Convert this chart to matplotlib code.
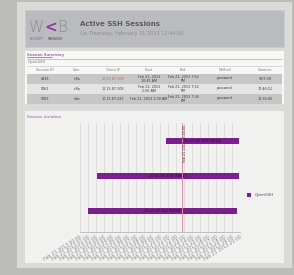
# Active SSH sessions report: summary table plus session duration gantt
import matplotlib.pyplot as plt
from matplotlib.patches import Rectangle

# table data
columns = ['Session ID', 'User', 'Client IP', 'Start', 'End', 'Method', 'Duration']
session_ids = ['4916', '5061', '5083']
users = ['rtflo', 'rtflo', 'mbc']
client_ips = ['10.15.87.109', '10.15.87.208', '10.15.87.222']
start_text = ['Feb 21, 2013\n10:45 AM', 'Feb 21, 2013\n2:06 AM', 'Feb 21, 2013 1:00 AM']
end_text = ['Feb 21, 2013 7:52\nPM', 'Feb 21, 2013 7:52\nPM', 'Feb 21, 2013 7:36\nPM']
methods = ['password', 'password', 'password']
durations = ['9:07:30', '17:46:12', '18:36:00']

# gantt data (hours since Feb 21 2013 00:00)
bar_labels = ['10.15.87.109 (4916)', '10.15.87.208 (5061)', '10.15.87.222 (5083)']
starts = [10.75, 2.1, 1.0]
ends = [19.87, 19.87, 19.6]
now_hour = 12.73
now_label = 'Feb 21 2013 12:44:00'
tick_hours = list(range(0, 21))
tick_labels = ['Feb 21 2013 %02d:00' % h for h in tick_hours]
series_name = 'OpenSSH'

PURPLE = '#7b1f8c'
GREY_TXT = '#8a8a8a'

fig = plt.figure(figsize=(2.94, 2.75), dpi=100)
fig.patch.set_facecolor('#bcbcb8')

bg = fig.add_axes([0, 0, 1, 1])
bg.set_xlim(0, 294)
bg.set_ylim(275, 0)
bg.set_axis_off()

# page and panels
bg.add_patch(Rectangle((17, 2), 275, 266, facecolor='#d9dcd6', edgecolor='none'))
bg.add_patch(Rectangle((25, 10), 259, 37, facecolor='#babbbf', edgecolor='#c8c9cb', lw=0.5))
bg.add_patch(Rectangle((25, 51), 259, 53, facecolor='#f7f8f6', edgecolor='none'))
bg.add_patch(Rectangle((25, 111), 259, 152, facecolor='#f1f2f0', edgecolor='none'))

# header: logo + title
bg.text(29, 28, 'W', fontsize=11, color='#8c8c8c', va='center', ha='left', fontweight='light')
bg.text(44.5, 28, '<', fontsize=11, color='#8e3a9c', va='center', ha='left', fontweight='bold')
bg.text(57, 28, 'B', fontsize=11, color='#8c8c8c', va='center', ha='left', fontweight='light')
bg.text(30, 39.5, 'SECURITY', fontsize=2.2, color='#9b4aa8', va='center', ha='left')
bg.text(48, 39.5, 'MANAGER', fontsize=2.2, color='#555555', va='center', ha='left')
bg.text(80, 24, 'Active SSH Sessions', fontsize=5, color='#5a5a5a',
        fontweight='bold', va='center', ha='left')
bg.text(80, 34, 'On Thursday, February 21 2013 12:44:00', fontsize=3.6,
        color='#8d8d8d', va='center', ha='left')

# session summary
bg.text(27, 55, 'Session Summary', fontsize=3, color=PURPLE, va='center', ha='left')
bg.plot([27, 52], [56.8, 56.8], color=PURPLE, lw=0.4)
bg.plot([27, 282], [58.5, 58.5], color='#9a9a9a', lw=0.4)
bg.text(28, 62.5, 'OpenSSH', fontsize=2.8, color='#777777', va='center', ha='left')
bg.plot([27, 282], [66, 66], color='#bbbbbb', lw=0.4)

col_x = [45, 77, 113, 149, 183, 225, 265]
for x, c in zip(col_x, columns):
    bg.text(x, 70, c, fontsize=2.4, color='#777777', va='center', ha='center')

row_y = [78.5, 88.5, 98.5]
row_fill = ['#c6c6c6', '#e4e4e4', '#c6c6c6']
for i, y in enumerate(row_y):
    bg.add_patch(Rectangle((27, y - 5), 255, 10, facecolor=row_fill[i], edgecolor='none'))
    vals = [session_ids[i], users[i], client_ips[i], start_text[i],
            end_text[i], methods[i], durations[i]]
    for j, (x, v) in enumerate(zip(col_x, vals)):
        col = '#e8552a' if (i == 0 and j == 2) else '#3a3a3a'
        bg.text(x, y, v, fontsize=2.4, color=col, va='center', ha='center',
                linespacing=1.0)

# session duration panel
bg.text(27, 117, 'Session duration', fontsize=3, color='#a050b0', va='center', ha='left')

# gantt chart
ax = fig.add_axes([80 / 294, 1 - 232 / 275, 160 / 294, 109 / 275])
ax.set_facecolor('#f1f2f0')
ypos = list(range(len(bar_labels)))
widths = [e - s for s, e in zip(starts, ends)]
ax.barh(ypos, widths, left=starts, height=0.19, color=PURPLE, label=series_name)
for y, s, e, lab in zip(ypos, starts, ends, bar_labels):
    ax.text((s + e) / 2, y, lab, fontsize=2.6, color='#2a0a30',
            ha='center', va='center')
ax.axvline(now_hour, color='#e08aaa', lw=0.7)
ax.text(now_hour + 0.1, -0.45, now_label, rotation=90, fontsize=2.4,
        color='#333333', ha='left', va='top')

ax.set_xlim(0, 20)
ax.set_ylim(2.6, -0.514)
ax.set_xticks(tick_hours)
ax.set_xticklabels(tick_labels, rotation=32, ha='right', rotation_mode='anchor',
                   fontsize=3.3, color=GREY_TXT)
ax.tick_params(axis='x', length=0, pad=2)
ax.set_yticks([])
ax.grid(axis='x', color='#dcdcdc', lw=0.6)
ax.set_axisbelow(True)
for side in ['top', 'right', 'left']:
    ax.spines[side].set_visible(False)
ax.spines['bottom'].set_color('#aaaaaa')
ax.spines['bottom'].set_linewidth(0.5)

ax.legend(loc='center left', bbox_to_anchor=(1.02, 0.34), frameon=False,
          fontsize=3, handlelength=1, handleheight=1.2, labelcolor='#555555')

fig.savefig('out.png', dpi=100, facecolor=fig.get_facecolor())
